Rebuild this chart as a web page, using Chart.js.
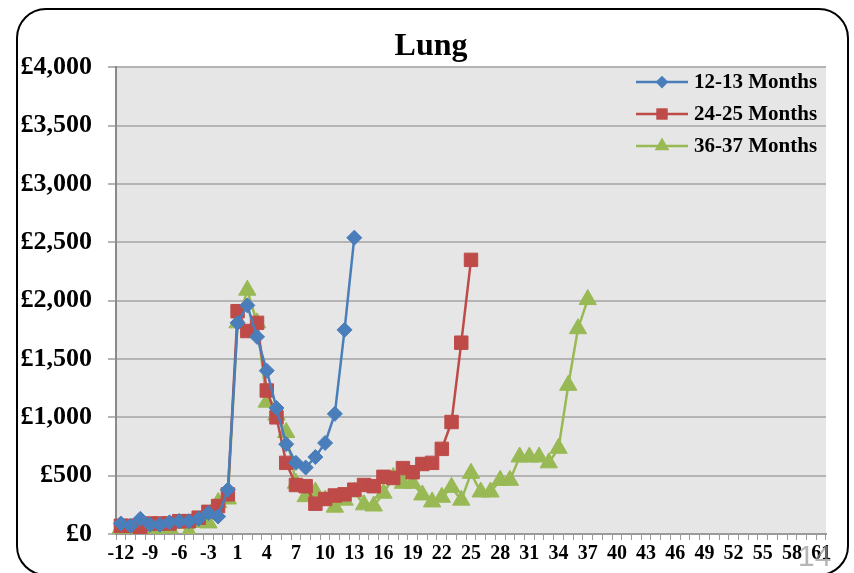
<!DOCTYPE html>
<html>
<head>
<meta charset="utf-8">
<script src="https://cdn.jsdelivr.net/npm/chart.js@4/dist/chart.umd.min.js"></script>
<style>
  html, body { margin: 0; padding: 0; background: #fff; overflow: hidden; }
  #wrap { position: relative; width: 854px; height: 573px; }
  #frame {
    position: absolute; left: 16px; top: 8px; width: 833px; height: 568px;
    border: 2px solid #000; border-radius: 30px; box-sizing: border-box; pointer-events: none;
  }
</style>
</head>
<body>
<div id="wrap">
  <canvas id="lung-chart" width="854" height="573"></canvas>
  <div id="frame"></div>
</div>
<script>
// months before / after diagnosis (no month 0)
var months = [-12, -11, -10, -9, -8, -7, -6, -5, -4, -3, -2, -1];
for (var m = 1; m <= 61; m++) months.push(m);

var seriesNames = ["12-13 Months", "24-25 Months", "36-37 Months"];

var cost12 = [90, 70, 130, 80, 80, 100, 110, 110, 130, 180, 150, 380,
  1810, 1960, 1690, 1400, 1080, 770, 610, 570, 660, 780, 1030, 1750, 2540];

var cost24 = [70, 70, 60, 90, 90, 90, 110, 110, 140, 190, 240, 340,
  1910, 1740, 1810, 1230, 1000, 610, 420, 410, 260, 300, 330, 340, 380,
  420, 410, 490, 480, 565, 530, 600, 610, 730, 960, 1640, 2350];

var cost36 = [50, 30, 60, 50, 10, 50, 90, 15, 100, 95, 270, 300,
  1810, 2090, 1810, 1130, 1020, 870, 435, 320, 360, 290, 230, 290, 360,
  250, 240, 350, 485, 435, 435, 335, 275, 315, 400, 290, 520,
  360, 360, 460, 460, 660, 660, 660, 610, 735, 1275, 1760, 2010];

var yTicks = [0, 500, 1000, 1500, 2000, 2500, 3000, 3500, 4000];

var colors = ["#4A7EBB", "#BE4B48", "#98B954"];
var markers = ["rectRot", "rect", "triangle"];
var markerSize = [7.5, 9.5, 10];

function pad(arr) {
  var out = arr.slice();
  while (out.length < months.length) out.push(null);
  return out;
}

var serif = "'Liberation Serif', 'Times New Roman', serif";

var plotBg = {
  id: 'plotBg',
  beforeDraw: function (chart) {
    var a = chart.chartArea, ctx = chart.ctx;
    ctx.save();
    ctx.fillStyle = '#e6e6e6';
    ctx.fillRect(a.left, a.top, a.right - a.left, a.bottom - a.top);
    ctx.restore();
  }
};

function drawMarker(ctx, style, x, y, r, color) {
  ctx.fillStyle = color;
  ctx.beginPath();
  if (style === 'rectRot') {
    ctx.moveTo(x, y - r); ctx.lineTo(x + r, y); ctx.lineTo(x, y + r); ctx.lineTo(x - r, y);
  } else if (style === 'rect') {
    var s = r * Math.SQRT1_2;
    ctx.rect(x - s, y - s, 2 * s, 2 * s);
  } else {
    ctx.moveTo(x, y - r); ctx.lineTo(x + r * 0.866, y + r / 2); ctx.lineTo(x - r * 0.866, y + r / 2);
  }
  ctx.closePath();
  ctx.fill();
}

var overlay = {
  id: 'overlay',
  afterDraw: function (chart) {
    var ctx = chart.ctx;
    ctx.save();
    // title, centred on the whole card
    ctx.font = "bold 32px " + serif;
    ctx.fillStyle = '#000';
    ctx.textAlign = 'center';
    ctx.textBaseline = 'middle';
    ctx.fillText('Lung', 431, 47);

    // legend inside the plot area
    var rows = [82, 114, 146];
    ctx.font = "bold 21px " + serif;
    ctx.textAlign = 'left';
    for (var i = 0; i < seriesNames.length; i++) {
      var y = rows[i];
      ctx.strokeStyle = colors[i];
      ctx.lineWidth = 2.5;
      ctx.beginPath();
      ctx.moveTo(636, y); ctx.lineTo(688, y);
      ctx.stroke();
      drawMarker(ctx, markers[i], 662, y, markerSize[i] * 0.85, colors[i]);
      ctx.fillStyle = '#000';
      ctx.fillText(seriesNames[i], 694, y + 1);
    }
    // page number
    ctx.font = "30px 'Liberation Sans', Arial, sans-serif";
    ctx.fillStyle = 'rgba(150,150,150,0.7)';
    ctx.textBaseline = 'alphabetic';
    ctx.fillText('14', 798, 566);
    ctx.restore();
  }
};

var datasets = [cost12, cost24, cost36].map(function (d, i) {
  return {
    label: seriesNames[i],
    data: pad(d),
    borderColor: colors[i],
    backgroundColor: colors[i],
    borderWidth: 2.5,
    pointStyle: markers[i],
    pointRadius: markerSize[i],
    pointBorderWidth: 1,
    pointBorderColor: colors[i],
    tension: 0,
    spanGaps: false
  };
});

var ctx = document.getElementById('lung-chart');
new Chart(ctx, {
  type: 'line',
  data: { labels: months, datasets: datasets },
  options: {
    responsive: false,
    animation: false,
    layout: { padding: { left: 0, right: 28, top: 0, bottom: 0 } },
    plugins: {
      legend: { display: false },
      tooltip: { enabled: false },
      // keeps the space above the plot; the visible title is drawn by the overlay
      title: {
        display: true,
        text: 'Lung',
        color: 'rgba(0,0,0,0)',
        font: { family: serif, size: 32, weight: 'bold' },
        padding: { top: 27, bottom: 2 }
      }
    },
    scales: {
      x: {
        type: 'category',
        offset: true,
        grid: { display: true, offset: true, drawOnChartArea: false, drawTicks: true, tickLength: 6, color: '#9a9a9a', lineWidth: 1 },
        border: { display: true, color: '#9a9a9a', width: 2 },
        ticks: {
          autoSkip: false,
          maxRotation: 0,
          padding: 2,
          color: '#000',
          font: { family: serif, size: 20, weight: 'bold' },
          callback: function (val, idx) { return idx % 3 === 0 ? String(months[idx]) : ''; }
        },
        afterFit: function (scale) { scale.height = 39; }
      },
      y: {
        min: 0,
        max: 4000,
        afterBuildTicks: function (scale) { scale.ticks = yTicks.map(function (v) { return { value: v }; }); },
        grid: { color: '#b4b4b4', lineWidth: 2, tickLength: 8, drawTicks: true },
        border: { display: true, color: '#8a8a8a', width: 2 },
        ticks: {
          padding: 16,
          color: '#000',
          font: { family: serif, size: 26, weight: 'bold' },
          callback: function (v) { return '£' + Number(v).toLocaleString('en-GB'); }
        },
        afterFit: function (scale) { scale.width = 116; }
      }
    }
  },
  plugins: [plotBg, overlay]
});
</script>
</body>
</html>
